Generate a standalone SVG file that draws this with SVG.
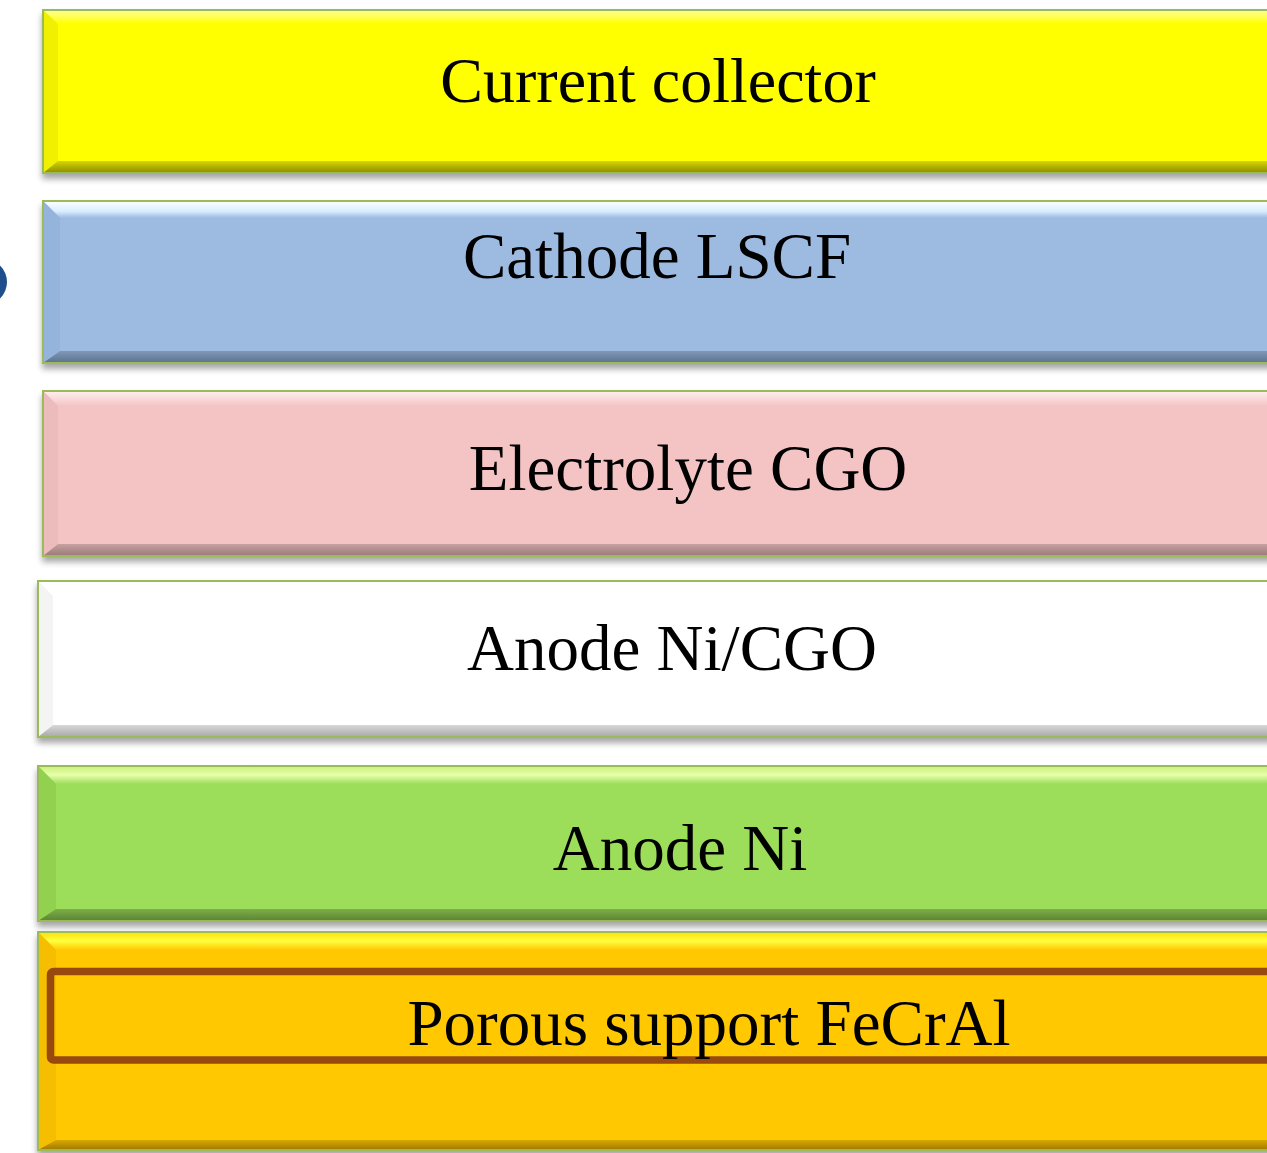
<svg xmlns="http://www.w3.org/2000/svg" width="1267" height="1153" viewBox="0 0 1267 1153">
<defs>
<style>
.lbl{font-family:"Liberation Serif","Times New Roman",serif;font-size:65px;fill:#000;text-anchor:middle}
.edge{fill:none;stroke:#9BBB59;stroke-width:2}
</style>
<filter id="sh" x="-5%" y="-20%" width="110%" height="150%">
<feGaussianBlur in="SourceAlpha" stdDeviation="3"/>
<feOffset dx="0" dy="5" result="b"/>
<feComponentTransfer><feFuncA type="linear" slope="0.35"/></feComponentTransfer>
<feMerge><feMergeNode/><feMergeNode in="SourceGraphic"/></feMerge>
</filter>
<linearGradient id="topY" x1="0" y1="0" x2="0" y2="1"><stop offset="0" stop-color="#FFFF9A"/><stop offset="0.5" stop-color="#FFFF50"/><stop offset="1" stop-color="#FFFF00"/></linearGradient>
<linearGradient id="botY" x1="0" y1="0" x2="0" y2="1"><stop offset="0" stop-color="#D6D600"/><stop offset="1" stop-color="#8C8C00"/></linearGradient>
<linearGradient id="topB" x1="0" y1="0" x2="0" y2="1"><stop offset="0" stop-color="#FFFFFF"/><stop offset="0.6" stop-color="#D8EEFF"/><stop offset="1" stop-color="#9DBBE1"/></linearGradient>
<linearGradient id="botB" x1="0" y1="0" x2="0" y2="1"><stop offset="0" stop-color="#8098B6"/><stop offset="1" stop-color="#5A7290"/></linearGradient>
<linearGradient id="topP" x1="0" y1="0" x2="0" y2="1"><stop offset="0" stop-color="#FFF0F0"/><stop offset="1" stop-color="#F4C4C4"/></linearGradient>
<linearGradient id="botP" x1="0" y1="0" x2="0" y2="1"><stop offset="0" stop-color="#C8A0A0"/><stop offset="1" stop-color="#9A7A7A"/></linearGradient>
<linearGradient id="botW" x1="0" y1="0" x2="0" y2="1"><stop offset="0" stop-color="#D8D8D8"/><stop offset="1" stop-color="#A8A8A8"/></linearGradient>
<linearGradient id="topG" x1="0" y1="0" x2="0" y2="1"><stop offset="0" stop-color="#C8F07A"/><stop offset="0.5" stop-color="#E8FFAA"/><stop offset="1" stop-color="#9CDD5A"/></linearGradient>
<linearGradient id="botG" x1="0" y1="0" x2="0" y2="1"><stop offset="0" stop-color="#7EAE48"/><stop offset="1" stop-color="#5A8434"/></linearGradient>
<linearGradient id="topO" x1="0" y1="0" x2="0" y2="1"><stop offset="0" stop-color="#FFE000"/><stop offset="0.5" stop-color="#FFFF40"/><stop offset="1" stop-color="#FFC800"/></linearGradient>
<linearGradient id="botO" x1="0" y1="0" x2="0" y2="1"><stop offset="0" stop-color="#D9A800"/><stop offset="1" stop-color="#A07800"/></linearGradient>
</defs>
<rect width="1267" height="1153" fill="#FFFFFF"/>

<circle cx="-16" cy="282" r="23" fill="#1F4E8C"/>

<g id="current-collector" filter="url(#sh)">
<rect x="43" y="10" width="1240" height="163" fill="#FFFF00"/>
<polygon points="43,10 1283,10 1283,24 58,24" fill="url(#topY)"/>
<polygon points="43,10 58,24 58,161 43,173" fill="#F0F000"/>
<polygon points="43,173 58,161 1283,161 1283,173" fill="url(#botY)"/>
<rect class="edge" x="43" y="10" width="1240" height="163"/>
<text class="lbl" x="658" y="102" style="font-size:64px">Current collector</text>
</g>

<g id="cathode" filter="url(#sh)">
<rect x="43" y="201" width="1240" height="162" fill="#9DBBE1"/>
<polygon points="43,201 1283,201 1283,218 60,218" fill="url(#topB)"/>
<polygon points="43,201 60,218 60,351 43,363" fill="#95B4DB"/>
<polygon points="43,363 60,351 1283,351 1283,363" fill="url(#botB)"/>
<rect class="edge" x="43" y="201" width="1240" height="162"/>
<text class="lbl" x="657" y="278">Cathode LSCF</text>
</g>

<g id="electrolyte" filter="url(#sh)">
<rect x="43" y="391" width="1240" height="165" fill="#F4C4C4"/>
<polygon points="43,391 1283,391 1283,406 58,406" fill="url(#topP)"/>
<polygon points="43,391 58,406 58,544 43,556" fill="#ECBCBC"/>
<polygon points="43,556 58,544 1283,544 1283,556" fill="url(#botP)"/>
<rect class="edge" x="43" y="391" width="1240" height="165"/>
<text class="lbl" x="688" y="490">Electrolyte CGO</text>
</g>

<g id="anode-ni-cgo" filter="url(#sh)">
<rect x="38" y="581" width="1245" height="156" fill="#FFFFFF"/>
<polygon points="38,581 53,596 53,725 38,737" fill="#F4F4F4"/>
<polygon points="38,737 53,725 1283,725 1283,737" fill="url(#botW)"/>
<rect class="edge" x="38" y="581" width="1245" height="156"/>
<text class="lbl" x="672" y="670">Anode Ni/CGO</text>
</g>

<g id="anode-ni" filter="url(#sh)">
<rect x="38" y="766" width="1245" height="155" fill="#9CDD5A"/>
<polygon points="38,766 1283,766 1283,784 56,784" fill="url(#topG)"/>
<polygon points="38,766 56,784 56,909 38,921" fill="#92D050"/>
<polygon points="38,921 56,909 1283,909 1283,921" fill="url(#botG)"/>
<rect class="edge" x="38" y="766" width="1245" height="155"/>
<text class="lbl" x="680" y="870">Anode Ni</text>
</g>

<g id="porous-support" filter="url(#sh)">
<rect x="38" y="932" width="1245" height="218" fill="#FFC800"/>
<polygon points="38,932 1283,932 1283,950 56,950" fill="url(#topO)"/>
<polygon points="38,932 56,950 56,1140 38,1150" fill="#F6BE00"/>
<polygon points="38,1150 56,1140 1283,1140 1283,1150" fill="url(#botO)"/>
<rect class="edge" x="38" y="932" width="1245" height="218"/>
<rect x="50.5" y="971.5" width="1240" height="88.5" rx="3" fill="none" stroke="#984807" stroke-width="7.5"/>
<text class="lbl" x="709" y="1045">Porous support FeCrAl</text>
</g>

<g id="connectors"></g>
</svg>
